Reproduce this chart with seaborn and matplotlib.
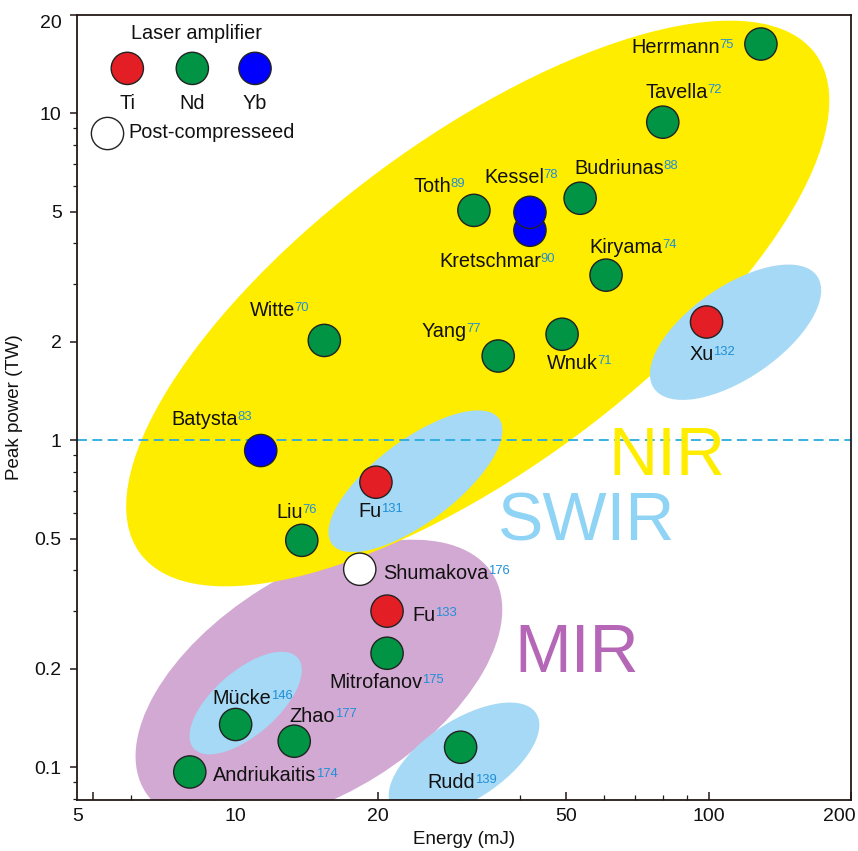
import numpy as np
import pandas as pd
import matplotlib
matplotlib.use("Agg")
import matplotlib.pyplot as plt
import seaborn as sns
from matplotlib.patches import Ellipse
from matplotlib.transforms import ScaledTranslation
from matplotlib.ticker import FixedLocator, FixedFormatter, LogLocator, NullFormatter

# ---------------- data ----------------
names = ["Herrmann", "Tavella", "Toth", "Kretschmar", "Kessel", "Budriunas", "Kiryama",
         "Witte", "Yang", "Wnuk", "Xu", "Batysta", "Fu", "Liu", "Shumakova", "Fu",
         "Mitrofanov", "Mücke", "Zhao", "Andriukaitis", "Rudd"]
refs = ["75", "72", "89", "90", "78", "88", "74", "70", "77", "71", "132", "83", "131",
        "76", "176", "133", "175", "146", "177", "174", "139"]
energy = [129, 80, 31.9, 41.9, 41.9, 53.5, 60.7, 15.4, 35.9, 49, 99, 11.3, 19.8, 13.8,
          18.3, 20.9, 20.9, 10.0, 13.3, 8.0, 29.9]
power = [16.3, 9.4, 5.05, 4.39, 4.98, 5.5, 3.2, 2.02, 1.81, 2.11, 2.3, 0.93, 0.744,
         0.494, 0.403, 0.30, 0.223, 0.135, 0.12, 0.0966, 0.115]
amplifier = ["Nd", "Nd", "Nd", "Yb", "Yb", "Nd", "Nd", "Nd", "Nd", "Nd", "Ti", "Yb", "Ti",
             "Nd", "Post", "Ti", "Nd", "Nd", "Nd", "Nd", "Nd"]

# label placement (pixel offsets from marker centre, horizontal alignment)
label_dx = [-41, 14, -42, -40, -16, 39, 20, -52, -54, 10, -5, -56, -6, -12, 23, 25, -11, 6, 18, 23, -9]
label_dy = [1, -32, -26, 29, -37, -32, -30, -32, -27, 27, 30, -33, 27, -30, 2, 2, 27, -28, -27, 2, 33]
label_ha = ["right", "center", "center", "center", "center", "center", "center", "center",
            "center", "center", "center", "center", "center", "center", "left", "left",
            "center", "center", "center", "left", "center"]

x_ticks = [5, 10, 20, 50, 100, 200]
y_ticks = [0.1, 0.2, 0.5, 1, 2, 5, 10, 20]
y_tick_labels = ["0.1", "0.2", "0.5", "1", "2", "5", "10", "20"]

# region shapes: centre (energy, power), size (px), angle
region_names = ["MIR", "NIR", "SWIR-Xu", "SWIR-Fu", "SWIR-Mucke", "SWIR-Rudd"]
region_cx = [15.0, 32.5, 114, 24.0, 10.5, 30.4]
region_cy = [0.181, 2.62, 2.14, 0.749, 0.157, 0.105]
region_w = [410, 840, 198, 209, 138, 172]
region_h = [220, 330, 92, 82, 64, 80]
region_ang = [32, 36.5, 34.5, 37, 41, 33]
region_col = ["#D2A9D2", "#FFED00", "#A6D9F5", "#A6D9F5", "#A6D9F5", "#A6D9F5"]

palette = {"Ti": "#E31E24", "Nd": "#009444", "Yb": "#0000FF", "Post": "#FFFFFF"}
sup_color = "#1F8FD8"

df = pd.DataFrame({"name": names, "ref": refs, "energy": energy, "power": power,
                   "amplifier": amplifier})

# ---------------- figure ----------------
sns.set_style("ticks")
plt.rcParams["font.family"] = ["Liberation Sans", "DejaVu Sans"]
plt.rcParams["axes.linewidth"] = 1.3
plt.rcParams["axes.edgecolor"] = "#231815"

DPI = 100
LBL = 14.3
fig = plt.figure(figsize=(8.58, 8.51), dpi=DPI)
ax = fig.add_axes([77 / 858, 1 - 800 / 851, (851 - 77) / 858, (800 - 15) / 851])
ax.set_xscale("log")
ax.set_yscale("log")
ax.set_xlim(4.62, 200)
ax.set_ylim(0.0793, 20)

# regions
for cx, cy, w, h, a, c in zip(region_cx, region_cy, region_w, region_h, region_ang, region_col):
    tr = fig.dpi_scale_trans + ScaledTranslation(cx, cy, ax.transData)
    e = Ellipse((0, 0), w / DPI, h / DPI, angle=a, transform=tr, facecolor=c,
                edgecolor="none", zorder=1)
    ax.add_patch(e)

ax.axhline(1, color="#29ABE2", lw=1.3, ls=(0, (5.5, 3)), zorder=2)

sns.scatterplot(data=df, x="energy", y="power", hue="amplifier", palette=palette,
                s=540, edgecolor="#222222", linewidth=1.0, legend=False, ax=ax, zorder=5)

# labels
for i, row in df.iterrows():
    t = ax.annotate(row["name"], xy=(row["energy"], row["power"]),
                    xytext=(label_dx[i] * 0.72, -label_dy[i] * 0.72), textcoords="offset points",
                    ha=label_ha[i], va="center_baseline", fontsize=LBL, color="#111111", zorder=6)
    ax.annotate(row["ref"], xy=(1, 1), xycoords=t, xytext=(-0.3, -0.8),
                textcoords="offset points", ha="left", va="top", fontsize=9.4,
                color=sup_color, zorder=6)

# region names
ax.text(0.762, 0.414, "NIR", transform=ax.transAxes, fontsize=49, color="#FFED00",
        ha="center", va="baseline", zorder=3)
ax.text(0.659, 0.331, "SWIR", transform=ax.transAxes, fontsize=49, color="#8FD4F4",
        ha="center", va="baseline", zorder=3)
ax.text(0.646, 0.163, "MIR", transform=ax.transAxes, fontsize=49, color="#B566B6",
        ha="center", va="baseline", zorder=3)

# legend (manual)
ax.text(0.154, 0.976, "Laser amplifier", transform=ax.transAxes, fontsize=LBL,
        ha="center", va="center", color="#111111")
leg_x = [0.065, 0.149, 0.230]
leg_keys = ["Ti", "Nd", "Yb"]
ax.scatter(leg_x, [0.932] * 3, s=540, c=[palette[k] for k in leg_keys], edgecolors="#222222",
           linewidths=1.0, transform=ax.transAxes, zorder=5, clip_on=False)
for lx, k in zip(leg_x, leg_keys):
    ax.text(lx, 0.887, k, transform=ax.transAxes, fontsize=LBL, ha="center", va="center",
            color="#111111")
ax.scatter([0.039], [0.850], s=540, c="white", edgecolors="#222222", linewidths=1.0,
           transform=ax.transAxes, zorder=5, clip_on=False)
ax.text(0.066, 0.850, "Post-compresseed", transform=ax.transAxes, fontsize=LBL,
        ha="left", va="center", color="#111111")

# axes / ticks
ax.xaxis.set_major_locator(FixedLocator(x_ticks))
ax.xaxis.set_major_formatter(FixedFormatter([str(v) for v in x_ticks]))
ax.xaxis.set_minor_locator(LogLocator(base=10, subs=np.arange(2, 10)))
ax.xaxis.set_minor_formatter(NullFormatter())
ax.yaxis.set_major_locator(FixedLocator(y_ticks))
ax.yaxis.set_major_formatter(FixedFormatter(y_tick_labels))
ax.yaxis.set_minor_locator(LogLocator(base=10, subs=np.arange(2, 10)))
ax.yaxis.set_minor_formatter(NullFormatter())
ax.tick_params(axis="x", which="major", direction="in", length=6, width=1.1, labelsize=14,
               pad=6, colors="#231815", labelcolor="#111111")
ax.tick_params(axis="x", which="minor", direction="in", length=3.5, width=0.9, colors="#231815")
ax.tick_params(axis="y", which="major", direction="out", length=5, width=1.1, labelsize=14,
               pad=6, colors="#231815", labelcolor="#111111")
ax.tick_params(axis="y", which="minor", direction="out", length=3, width=0.9, colors="#231815")

# end tick labels sit slightly inside the frame, as in the reference
xt = ax.xaxis.get_major_ticks()
xt[0].label1.set_transform(xt[0].label1.get_transform()
                           + ScaledTranslation(-16 / DPI, 0, fig.dpi_scale_trans))
xt[-1].label1.set_transform(xt[-1].label1.get_transform()
                            + ScaledTranslation(-12 / DPI, 0, fig.dpi_scale_trans))
yt = ax.yaxis.get_major_ticks()
yt[-1].label1.set_transform(yt[-1].label1.get_transform()
                            + ScaledTranslation(0, -6 / DPI, fig.dpi_scale_trans))

ax.set_xlabel("Energy (mJ)", fontsize=13.5, color="#111111", labelpad=4)
ax.set_ylabel("Peak power (TW)", fontsize=13.5, color="#111111", labelpad=8)

fig.savefig("out.png", dpi=DPI)
